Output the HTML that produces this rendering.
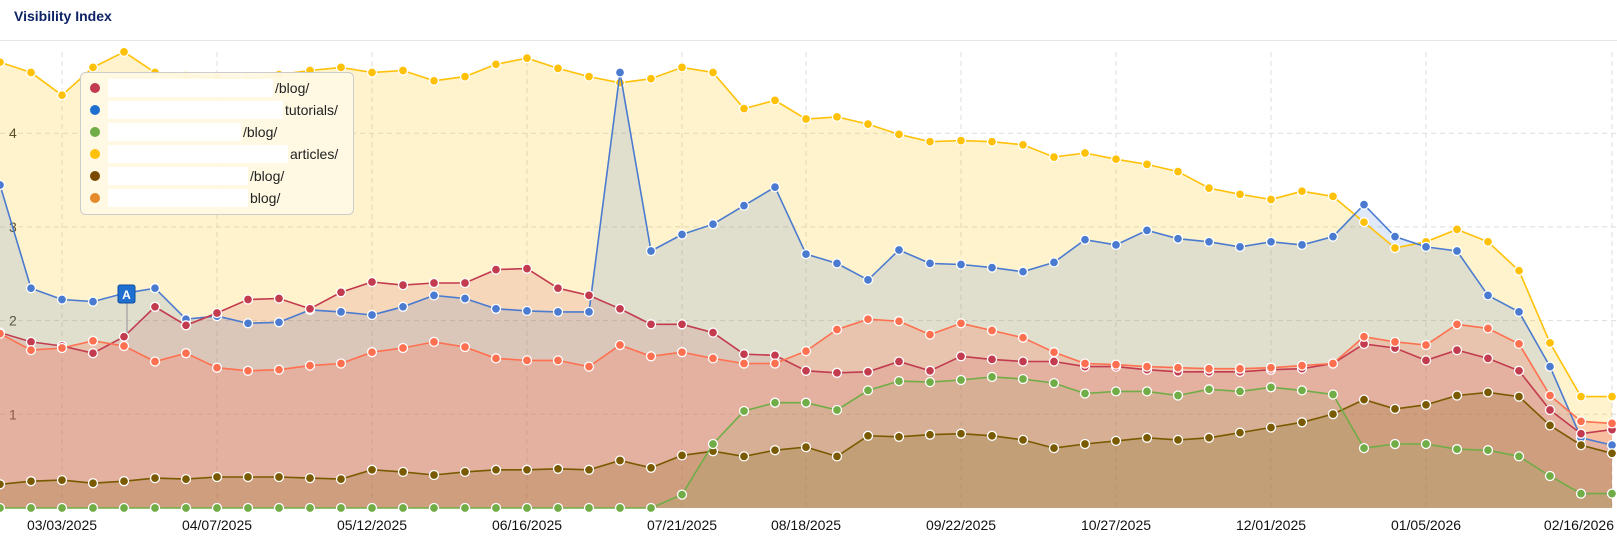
<!DOCTYPE html>
<html><head><meta charset="utf-8"><style>
body{margin:0;background:#fff;width:1617px;height:541px;overflow:hidden;font-family:"Liberation Sans",Arial,sans-serif}
#t{position:absolute;left:14px;top:8px;font-size:14px;font-weight:bold;color:#0d2366}
#sep{position:absolute;left:0;top:40px;width:1617px;height:1px;background:#e6e6e6}
svg{position:absolute;left:0;top:0}
</style></head><body>
<div id="t">Visibility Index</div><div id="sep"></div>
<svg id="s" width="1617" height="541" xmlns="http://www.w3.org/2000/svg"></svg>
<script>
var Y=[60,70,92,65,50,70,73,75,77,72,68,65,70,68,78,74,62,56,66,74,80,76,65,70,105,97,115,113,120,130,137,136,137,140,152,148,154,159,166,182,188,193,185,190,215,240,234,222,234,262,332,384,384];
var B=[179,279,290,292,284,279,309,306,313,312,300,302,305,297,286,289,299,301,302,302,70,243,227,217,199,181,246,255,271,242,255,256,259,263,254,232,237,223,231,234,239,234,237,229,198,229,239,243,286,302,355,424,431];
var R=[322,331,335,342,326,297,315,303,290,289,299,283,273,276,274,274,261,260,279,286,299,314,314,322,343,344,359,361,360,350,359,345,348,350,350,355,355,358,360,360,360,358,357,352,333,337,349,339,347,359,397,420,416];
var S=[323,339,337,330,335,350,342,356,359,358,354,352,341,337,331,336,347,349,349,355,334,345,341,347,352,352,340,319,309,311,324,313,320,327,341,352,353,355,356,357,357,356,354,352,326,331,334,314,318,333,383,408,410];
var W=[469,466,465,468,466,463,464,462,462,462,463,464,455,457,460,457,455,455,454,455,446,453,441,437,442,436,433,442,422,423,421,420,422,426,434,430,427,424,426,424,419,414,409,401,387,396,392,383,380,384,412,431,439];
var G=[];for(var i=0;i<22;i++)G.push(492);
G=G.concat([479,430,398,390,390,397,378,369,370,368,365,367,371,381,379,379,383,377,379,375,378,382,434,430,430,435,436,442,461,478,478]);
function ry(d){return 508-(492-d)*93.7/90.8;}
var h='';
[1,2,3,4].forEach(function(v){var y=508-v*93.7;h+='<line x1="0" x2="1617" y1="'+y+'" y2="'+y+'" stroke="#ddd" stroke-dasharray="5,4"/>';h+='<text x="9" y="'+(y+5)+'" font-size="14" fill="#333">'+v+'</text>';});
var L=[[2,'03/03/2025'],[7,'04/07/2025'],[12,'05/12/2025'],[17,'06/16/2025'],[22,'07/21/2025'],[26,'08/18/2025'],[31,'09/22/2025'],[36,'10/27/2025'],[41,'12/01/2025'],[46,'01/05/2026'],[52,'02/16/2026']];
L.forEach(function(l){var x=l[0]*31;h+='<line x1="'+x+'" x2="'+x+'" y1="52" y2="508" stroke="#ddd" stroke-dasharray="5,4"/>';
if(l[0]==52){h+='<text x="1614" y="530" font-size="14" fill="#111" text-anchor="end">'+l[1]+'</text>';}
else{h+='<text x="'+x+'" y="530" font-size="14" fill="#111" text-anchor="middle">'+l[1]+'</text>';}});
var ser=[[Y,'#ffc107',0.2],[B,'#4a7bd0',0.17],[R,'#c23b4e',0.15],[S,'#ff7050',0.25],[W,'#7a5a00',0.2],[G,'#70ad47',0.12]];
ser.forEach(function(s){var p='';s[0].forEach(function(d,i){p+=(i*31)+','+ry(d).toFixed(1)+' ';});
h+='<polygon points="0,508 '+p+'1612,508" fill="'+s[1]+'" fill-opacity="'+s[2]+'"/>';});
ser.forEach(function(s){var p='';s[0].forEach(function(d,i){p+=(i*31)+','+ry(d).toFixed(1)+' ';});
h+='<polyline points="'+p+'" fill="none" stroke="'+s[1]+'" stroke-width="1.6"/>';
s[0].forEach(function(d,i){h+='<circle cx="'+(i*31)+'" cy="'+ry(d).toFixed(1)+'" r="4.5" fill="'+s[1]+'" stroke="#fff" stroke-width="1.3"/>';});});
h+='<line x1="127" x2="127" y1="300" y2="333" stroke="#aaa" stroke-width="1.5"/><rect x="118" y="285" width="17" height="18" rx="2" fill="#1e6fd0" stroke="#0d4fa0"/><text x="126.5" y="299" font-size="12" font-weight="bold" fill="#fff" text-anchor="middle">A</text>';
h+='<rect x="80.5" y="72.5" width="273" height="142" rx="5" fill="#fff8e4" fill-opacity="0.95" stroke="#ccc"/>';
var lg=[['#c23b4e','/blog/',275],['#1e6fd0','tutorials/',285],['#70ad47','/blog/',243],['#ffc107','articles/',290],['#7a4a00','/blog/',250],['#e58a2a','blog/',250]];
lg.forEach(function(l,i){var y=88+i*22;h+='<circle cx="95" cy="'+y+'" r="5" fill="'+l[0]+'"/>';h+='<rect x="108" y="'+(y-9)+'" width="'+(l[2]-110)+'" height="18" fill="#fff"/>';h+='<text x="'+l[2]+'" y="'+(y+5)+'" font-size="14" fill="#222">'+l[1]+'</text>';});
document.getElementById('s').innerHTML=h;
</script>
</body></html>
